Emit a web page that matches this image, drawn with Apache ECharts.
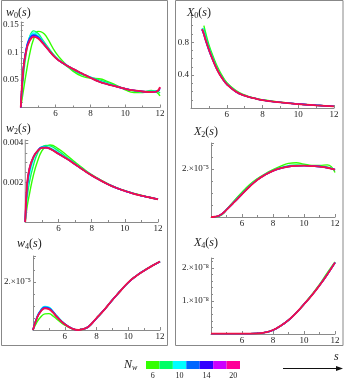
<!DOCTYPE html>
<html>
<head>
<meta charset="utf-8">
<script src="https://cdn.jsdelivr.net/npm/echarts@6/dist/echarts.min.js"></script>
<style>
html, body { margin: 0; padding: 0; background: #fff; }
#chart { width: 344px; height: 381px; }
</style>
</head>
<body>
<div id="chart"></div>
<script>
var nwList = [6, 8, 10, 12, 14, 16, 20];
var nwShown = [6, 10, 14, 20];

// w0(s)
var sW0 = [4, 4.15, 4.3, 4.5, 4.75, 5, 5.25, 5.5, 6, 6.5, 7, 7.5, 8, 8.5, 9, 9.5, 10, 10.5, 11, 11.5, 11.8, 12];
var w0_6  = [0, 0.03, 0.06, 0.095, 0.125, 0.138, 0.136, 0.127, 0.1, 0.081, 0.066, 0.057, 0.053, 0.052, 0.047, 0.04, 0.032, 0.027, 0.027, 0.031, 0.028, 0.021];
var w0_8  = [0, 0.055, 0.095, 0.127, 0.139, 0.134, 0.123, 0.112, 0.092, 0.078, 0.068, 0.06, 0.055, 0.05, 0.045, 0.039, 0.034, 0.03, 0.028, 0.03, 0.03, 0.026];
var w0_10 = [0, 0.065, 0.102, 0.127, 0.135, 0.13, 0.12, 0.11, 0.091, 0.08, 0.07, 0.062, 0.055, 0.048, 0.043, 0.038, 0.034, 0.031, 0.029, 0.029, 0.03, 0.031];
var w0_12 = [0, 0.07, 0.104, 0.125, 0.132, 0.128, 0.119, 0.109, 0.09, 0.079, 0.07, 0.062, 0.054, 0.047, 0.042, 0.038, 0.034, 0.031, 0.029, 0.028, 0.029, 0.033];
var w0_14 = [0, 0.071, 0.103, 0.123, 0.13, 0.127, 0.118, 0.108, 0.09, 0.079, 0.07, 0.062, 0.054, 0.047, 0.042, 0.038, 0.034, 0.031, 0.029, 0.028, 0.029, 0.035];
var w0_16 = [0, 0.071, 0.101, 0.121, 0.129, 0.126, 0.117, 0.108, 0.09, 0.079, 0.07, 0.062, 0.054, 0.047, 0.042, 0.038, 0.034, 0.031, 0.029, 0.028, 0.029, 0.036];
var w0_20 = [0, 0.07, 0.1, 0.12, 0.128, 0.125, 0.117, 0.108, 0.09, 0.079, 0.07, 0.062, 0.054, 0.047, 0.042, 0.038, 0.034, 0.031, 0.029, 0.028, 0.029, 0.037];

// X0(s)
var sX0 = [4.62, 4.72, 4.8, 5, 5.25, 5.5, 5.75, 6, 6.5, 7, 7.5, 8, 9, 10, 11, 12];
var x0_6  = [null, 1.0, 0.93, 0.77, 0.62, 0.49, 0.39, 0.31, 0.215, 0.158, 0.122, 0.1, 0.07, 0.049, 0.034, 0.02];
var x0_8  = [null, 0.97, 0.9, 0.75, 0.6, 0.47, 0.375, 0.3, 0.207, 0.153, 0.12, 0.097, 0.069, 0.048, 0.033, 0.02];
var x0_10 = [0.97, 0.92, 0.86, 0.72, 0.58, 0.455, 0.365, 0.293, 0.202, 0.15, 0.12, 0.095, 0.068, 0.048, 0.033, 0.02];
var x0_12 = [0.95, 0.89, 0.83, 0.7, 0.565, 0.45, 0.36, 0.29, 0.2, 0.15, 0.12, 0.095, 0.068, 0.048, 0.033, 0.02];
var x0_14 = [0.95, 0.9, 0.84, 0.71, 0.57, 0.45, 0.36, 0.29, 0.2, 0.15, 0.12, 0.095, 0.068, 0.048, 0.033, 0.02];
var x0_16 = [0.96, 0.9, 0.84, 0.71, 0.57, 0.45, 0.36, 0.29, 0.2, 0.15, 0.12, 0.095, 0.068, 0.048, 0.033, 0.02];
var x0_20 = [0.96, 0.9, 0.84, 0.71, 0.57, 0.45, 0.36, 0.29, 0.2, 0.15, 0.12, 0.095, 0.068, 0.048, 0.033, 0.02];

// w2(s)
var sW2 = [4, 4.1, 4.25, 4.5, 4.75, 5, 5.25, 5.5, 6, 6.5, 7, 7.5, 8, 8.5, 9, 9.5, 10, 10.5, 11, 11.5, 12];
var w2_6  = [0, 0.0007, 0.0014, 0.0024, 0.0031, 0.0036, 0.00383, 0.0039, 0.0037, 0.00338, 0.00303, 0.0027, 0.0024, 0.00215, 0.00193, 0.00174, 0.00159, 0.00146, 0.00135, 0.00125, 0.00116];
var w2_8  = [0, 0.0011, 0.002, 0.0029, 0.0035, 0.0038, 0.00388, 0.00385, 0.0036, 0.00328, 0.00297, 0.00266, 0.00238, 0.00213, 0.00191, 0.00173, 0.00158, 0.00145, 0.00134, 0.00124, 0.00115];
var w2_10 = [0, 0.0014, 0.0024, 0.0032, 0.0036, 0.0038, 0.0038, 0.00375, 0.0035, 0.00323, 0.00294, 0.00264, 0.00237, 0.00212, 0.0019, 0.00172, 0.00157, 0.00144, 0.00133, 0.00124, 0.00115];
var w2_12 = [0, 0.0016, 0.0026, 0.0033, 0.0036, 0.00378, 0.00378, 0.00372, 0.00347, 0.00321, 0.00292, 0.00263, 0.00236, 0.00212, 0.0019, 0.00172, 0.00157, 0.00144, 0.00133, 0.00124, 0.00115];
var w2_14 = [0, 0.0017, 0.0027, 0.0033, 0.0036, 0.00376, 0.00376, 0.0037, 0.00345, 0.0032, 0.00292, 0.00263, 0.00236, 0.00212, 0.0019, 0.00172, 0.00157, 0.00144, 0.00133, 0.00124, 0.00115];
var w2_16 = [0, 0.0018, 0.0027, 0.0033, 0.0036, 0.00375, 0.00376, 0.0037, 0.00345, 0.0032, 0.00292, 0.00263, 0.00236, 0.00212, 0.0019, 0.00172, 0.00157, 0.00144, 0.00133, 0.00124, 0.00115];
var w2_20 = [0, 0.0018, 0.0027, 0.0033, 0.0036, 0.00375, 0.00376, 0.0037, 0.00345, 0.0032, 0.00292, 0.00263, 0.00236, 0.00212, 0.0019, 0.00172, 0.00157, 0.00144, 0.00133, 0.00124, 0.00115];

// X2(s), in units of 1e-5
var sX2 = [4, 4.25, 4.5, 4.75, 5, 5.5, 6, 6.5, 7, 7.5, 8, 8.5, 9, 9.5, 10, 10.5, 11, 11.5, 12];
var x2_6  = [0, 0, 0.03, 0.12, 0.3, 0.68, 1.03, 1.35, 1.6, 1.8, 1.97, 2.12, 2.23, 2.26, 2.2, 2.15, 2.15, 2.17, 1.85];
var x2_8  = [0, 0.01, 0.04, 0.14, 0.31, 0.66, 1.0, 1.31, 1.58, 1.78, 1.94, 2.06, 2.14, 2.17, 2.16, 2.13, 2.11, 2.08, 1.94];
var x2_10 = [0, 0.01, 0.05, 0.15, 0.3, 0.63, 0.96, 1.28, 1.56, 1.77, 1.93, 2.04, 2.11, 2.14, 2.14, 2.12, 2.1, 2.06, 1.98];
var x2_12 = [0, 0.01, 0.05, 0.15, 0.3, 0.62, 0.95, 1.27, 1.55, 1.76, 1.92, 2.03, 2.1, 2.13, 2.14, 2.12, 2.1, 2.05, 1.97];
var x2_14 = [0, 0.01, 0.05, 0.15, 0.3, 0.62, 0.95, 1.27, 1.55, 1.76, 1.92, 2.03, 2.1, 2.13, 2.14, 2.12, 2.1, 2.05, 1.97];
var x2_16 = [0, 0.01, 0.05, 0.15, 0.3, 0.62, 0.95, 1.27, 1.55, 1.76, 1.92, 2.03, 2.1, 2.13, 2.14, 2.12, 2.1, 2.05, 1.97];
var x2_20 = [0, 0.01, 0.05, 0.15, 0.3, 0.62, 0.95, 1.27, 1.55, 1.76, 1.92, 2.03, 2.1, 2.13, 2.14, 2.12, 2.1, 2.05, 1.97];

// w4(s), in units of 1e-5
var sW4 = [4, 4.25, 4.5, 4.75, 5, 5.25, 5.5, 6, 6.5, 6.85, 7.25, 7.5, 8, 8.5, 9, 9.5, 10, 10.5, 11, 11.5, 12];
var w4_6  = [0, 0.33, 0.55, 0.67, 0.68, 0.59, 0.45, 0.2, 0.04, 0, 0.06, 0.14, 0.49, 0.85, 1.25, 1.62, 1.98, 2.25, 2.47, 2.67, 2.84];
var w4_8  = [0, 0.5, 0.8, 0.94, 0.92, 0.77, 0.58, 0.25, 0.05, 0, 0.06, 0.14, 0.49, 0.85, 1.25, 1.62, 1.98, 2.25, 2.48, 2.68, 2.86];
var w4_10 = [0, 0.55, 0.85, 0.98, 0.95, 0.79, 0.59, 0.26, 0.05, 0, 0.06, 0.14, 0.49, 0.85, 1.25, 1.62, 1.98, 2.25, 2.47, 2.67, 2.85];
var w4_12 = [0, 0.53, 0.83, 0.95, 0.92, 0.77, 0.57, 0.25, 0.05, 0, 0.06, 0.14, 0.49, 0.85, 1.25, 1.62, 1.98, 2.25, 2.47, 2.67, 2.85];
var w4_14 = [0, 0.51, 0.8, 0.92, 0.89, 0.75, 0.56, 0.245, 0.05, 0, 0.06, 0.14, 0.49, 0.85, 1.25, 1.62, 1.98, 2.25, 2.47, 2.67, 2.85];
var w4_16 = [0, 0.5, 0.79, 0.91, 0.88, 0.74, 0.55, 0.24, 0.05, 0, 0.06, 0.14, 0.49, 0.85, 1.25, 1.62, 1.98, 2.25, 2.47, 2.67, 2.85];
var w4_20 = [0, 0.5, 0.78, 0.9, 0.87, 0.73, 0.55, 0.24, 0.05, 0, 0.06, 0.14, 0.49, 0.85, 1.25, 1.62, 1.98, 2.25, 2.47, 2.67, 2.85];

// X4(s), in units of 1e-8
var sX4 = [4, 5, 6, 7, 7.5, 8, 8.5, 9, 9.5, 10, 10.5, 11, 11.5, 12];
var x4_6  = [0.01, 0.01, 0.01, 0.02, 0.05, 0.12, 0.25, 0.42, 0.64, 0.91, 1.19, 1.5, 1.85, 2.18];
var x4_8  = [0.01, 0.01, 0.01, 0.02, 0.05, 0.12, 0.25, 0.42, 0.64, 0.9, 1.18, 1.48, 1.82, 2.17];
var x4_10 = [0.01, 0.01, 0.01, 0.02, 0.05, 0.12, 0.25, 0.42, 0.64, 0.9, 1.17, 1.47, 1.8, 2.16];
var x4_12 = [0.01, 0.01, 0.01, 0.02, 0.05, 0.12, 0.25, 0.42, 0.64, 0.9, 1.17, 1.47, 1.8, 2.16];
var x4_14 = [0.01, 0.01, 0.01, 0.02, 0.05, 0.12, 0.25, 0.42, 0.64, 0.9, 1.17, 1.47, 1.8, 2.16];
var x4_16 = [0.01, 0.01, 0.01, 0.02, 0.05, 0.12, 0.25, 0.42, 0.64, 0.9, 1.17, 1.47, 1.8, 2.16];
var x4_20 = [0.01, 0.01, 0.01, 0.02, 0.05, 0.12, 0.25, 0.42, 0.64, 0.9, 1.17, 1.47, 1.8, 2.16];

// tick labels
var xTickVals = [6, 8, 10, 12];
var xTickText = ['6', '8', '10', '12'];
var w0TickVals = [0.05, 0.1, 0.15];
var w0TickText = ['0.05', '0.1', '0.15'];
var x0TickVals = [0.4, 0.8];
var x0TickText = ['0.4', '0.8'];
var w2TickVals = [0.002, 0.004];
var w2TickText = ['0.002', '0.004'];
var w4TickVals = [2];
var w4TickText = ['2.×10⁻⁵'];
var x2TickVals = [2];
var x2TickText = ['2.×10⁻⁵'];
var x4TickVals = [1, 2];
var x4TickText = ['1.×10⁻⁸', '2.×10⁻⁸'];

var barColors = ['#33ff00', '#00ff66', '#00ffff', '#0066ff', '#3300ff', '#cc00ff', '#ff0099'];
var lineColors = ['#33ff00', '#00ff66', '#00ffff', '#0066ff', '#3300ff', '#cc00ff', '#ee1248'];
var lineWidths = [1.4, 1.4, 1.4, 1.4, 1.4, 1.4, 1.8];

var serif = 'Liberation Serif, Times New Roman, serif';
var axisColor = '#8a8a8a';
var textColor = '#222';

var panels = [
    {letter: 'w', sub: '0', s: sW0, ys: [w0_6, w0_8, w0_10, w0_12, w0_14, w0_16, w0_20],
        grid: {left: 19, top: 22, width: 141, height: 85.5}, yMax: 0.155, yInt: 0.05, yMinor: 5,
        tv: w0TickVals, tt: w0TickText, tpos: [6, 6]},
    {letter: 'X', sub: '0', s: sX0, ys: [x0_6, x0_8, x0_10, x0_12, x0_14, x0_16, x0_20],
        grid: {left: 191, top: 15, width: 143, height: 93}, yMax: 1.13, yInt: 0.4, yMinor: 4,
        tv: x0TickVals, tt: x0TickText, tpos: [187, 6]},
    {letter: 'w', sub: '2', s: sW2, ys: [w2_6, w2_8, w2_10, w2_12, w2_14, w2_16, w2_20],
        grid: {left: 23, top: 140, width: 135, height: 82}, yMax: 0.00415, yInt: 0.002, yMinor: 4,
        tv: w2TickVals, tt: w2TickText, tpos: [6, 122]},
    {letter: 'X', sub: '2', s: sX2, ys: [x2_6, x2_8, x2_10, x2_12, x2_14, x2_16, x2_20],
        grid: {left: 211, top: 143, width: 124, height: 74}, yMax: 3.08, yInt: 2, yMinor: 4,
        tv: x2TickVals, tt: x2TickText, tpos: [194, 125]},
    {letter: 'w', sub: '4', s: sW4, ys: [w4_6, w4_8, w4_10, w4_12, w4_14, w4_16, w4_20],
        grid: {left: 33, top: 256, width: 127, height: 74}, yMax: 3.08, yInt: 2, yMinor: 4,
        tv: w4TickVals, tt: w4TickText, tpos: [17, 237]},
    {letter: 'X', sub: '4', s: sX4, ys: [x4_6, x4_8, x4_10, x4_12, x4_14, x4_16, x4_20],
        grid: {left: 211, top: 258, width: 124, height: 76}, yMax: 2.3, yInt: 1, yMinor: 5,
        tv: x4TickVals, tt: x4TickText, tpos: [194, 236]}
];

var pickLabel = function (vals, texts) {
    return function (v) {
        for (var i = 0; i < vals.length; i++) {
            if (Math.abs(v - vals[i]) < 1e-7) return texts[i];
        }
        return '';
    };
};

var titleRich = {
    i: {fontFamily: serif, fontStyle: 'italic', fontWeight: 'normal', fontSize: 12, lineHeight: 14, color: textColor},
    p: {fontFamily: serif, fontWeight: 'normal', fontSize: 12, lineHeight: 14, color: textColor},
    b: {fontFamily: serif, fontWeight: 'normal', fontSize: 8, lineHeight: 8, verticalAlign: 'bottom', color: textColor}
};

var grids = [], xAxes = [], yAxes = [], series = [], titles = [];

for (var p = 0; p < panels.length; p++) {
    var pn = panels[p];
    grids.push(pn.grid);
    xAxes.push({
        type: 'value', gridIndex: p, min: 4, max: 12, interval: 2,
        axisLine: {show: true, onZero: false, lineStyle: {color: axisColor, width: 1}},
        axisTick: {show: true, inside: true, length: 3, lineStyle: {color: axisColor}},
        minorTick: {show: true, splitNumber: 2, length: 2, lineStyle: {color: axisColor}},
        splitLine: {show: false},
        axisLabel: {fontFamily: serif, fontSize: 9, color: textColor, margin: 2,
            formatter: pickLabel(xTickVals, xTickText)}
    });
    yAxes.push({
        type: 'value', gridIndex: p, min: 0, max: pn.yMax, interval: pn.yInt,
        axisLine: {show: true, onZero: false, lineStyle: {color: axisColor, width: 1}},
        axisTick: {show: true, inside: true, length: 3, lineStyle: {color: axisColor}},
        minorTick: {show: true, splitNumber: pn.yMinor, length: 2, lineStyle: {color: axisColor}},
        splitLine: {show: false},
        axisLabel: {fontFamily: serif, fontSize: 9, color: textColor, margin: 2,
            formatter: pickLabel(pn.tv, pn.tt)}
    });
    titles.push({
        text: '{i|' + pn.letter + '}{b|' + pn.sub + '}{p|(}{i|s}{p|)}',
        left: pn.tpos[0], top: pn.tpos[1], padding: 0,
        textStyle: {fontWeight: 'normal', rich: titleRich}
    });
    for (var k = 0; k < nwList.length; k++) {
        var pts = [];
        for (var j = 0; j < pn.s.length; j++) {
            if (pn.ys[k][j] != null) pts.push([pn.s[j], pn.ys[k][j]]);
        }
        series.push({
            type: 'line', name: 'Nw=' + nwList[k], xAxisIndex: p, yAxisIndex: p,
            data: pts, showSymbol: false, smooth: 0.5,
            lineStyle: {color: lineColors[k], width: lineWidths[k]}, silent: true
        });
    }
}

// colour bar legend
grids.push({left: 146, top: 361, width: 94, height: 8});
xAxes.push({
    type: 'category', gridIndex: 6, data: nwList.map(String),
    axisLine: {show: false}, axisTick: {show: false}, splitLine: {show: false},
    axisLabel: {fontFamily: serif, fontSize: 8, color: textColor, margin: 3,
        interval: function (idx, val) { return nwShown.indexOf(+val) >= 0; }}
});
yAxes.push({type: 'value', gridIndex: 6, min: 0, max: 1, show: false});
series.push({
    type: 'bar', xAxisIndex: 6, yAxisIndex: 6, barCategoryGap: 0, silent: true,
    data: nwList.map(function (n, i) { return {value: 1, itemStyle: {color: barColors[i]}}; })
});

titles.push({
    text: '{i|N}{w|w}', left: 124, top: 358, padding: 0,
    textStyle: {fontWeight: 'normal', rich: {
        i: {fontFamily: serif, fontStyle: 'italic', fontWeight: 'normal', fontSize: 12, lineHeight: 14, color: textColor},
        w: {fontFamily: serif, fontStyle: 'italic', fontWeight: 'normal', fontSize: 8, lineHeight: 8, verticalAlign: 'bottom', color: textColor}
    }}
});
titles.push({
    text: 's', left: 334, top: 351, padding: 0,
    textStyle: {fontFamily: serif, fontStyle: 'italic', fontWeight: 'normal', fontSize: 12, color: textColor}
});

var chart = echarts.init(document.getElementById('chart'));
chart.setOption({
    animation: false,
    backgroundColor: '#fff',
    title: titles,
    grid: grids,
    xAxis: xAxes,
    yAxis: yAxes,
    series: series,
    graphic: [
        {type: 'rect', shape: {x: 1.5, y: 0.5, width: 166, height: 345}, style: {fill: null, stroke: '#888', lineWidth: 1}, silent: true},
        {type: 'rect', shape: {x: 175.5, y: 0.5, width: 167.5, height: 345}, style: {fill: null, stroke: '#888', lineWidth: 1}, silent: true},
        {type: 'line', shape: {x1: 283, y1: 368.5, x2: 338, y2: 368.5}, style: {stroke: '#111', lineWidth: 1}, silent: true},
        {type: 'polygon', shape: {points: [[336, 366], [343, 368.5], [336, 371]]}, style: {fill: '#111'}, silent: true}
    ]
});
</script>
</body>
</html>
